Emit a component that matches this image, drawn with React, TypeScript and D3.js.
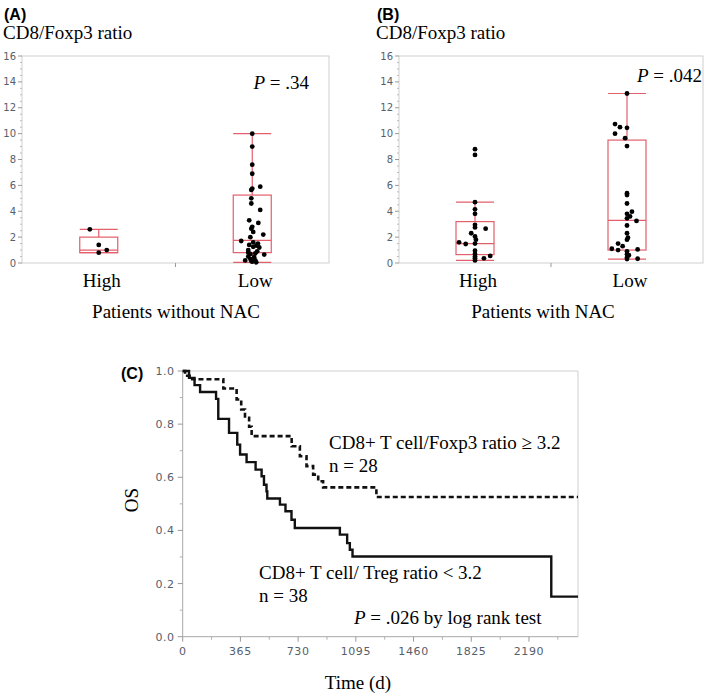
import React from "react";
import * as d3 from "d3";

// ---------- Data ----------
const categories = ["High", "Low"];
const yTicksBox = [0, 2, 4, 6, 8, 10, 12, 14, 16];

// Panel A (without NAC): box stats [lowWhisker, q1, median, q3, highWhisker]
const statsA_High = [0.8, 0.8, 1.0, 2.0, 2.6];
const statsA_Low = [0.05, 0.8, 1.75, 5.25, 10.0];
const ptsA_High = [2.6, 1.4, 1.0, 0.8];
const jitA_High = [-0.47, 0, 0.42, 0];
const ptsA_Low = [10.0, 9.0, 7.6, 6.9, 5.9, 5.75, 5.65, 5.0, 4.6, 4.1, 3.3, 3.1, 2.8, 2.65, 2.4, 2.2, 2.0, 1.7, 1.6, 1.5, 1.4, 1.35, 1.25, 1.2, 1.0, 0.9, 0.8, 0.75, 0.7, 0.65, 0.5, 0.45, 0.3, 0.2, 0.2, 0.15, 0.1, 0.05];
const jitA_Low = [0, 0, 0, 0, 0.42, 0, -0.05, -0.05, -0.05, 0.42, -0.16, 0.32, 0, -0.05, 0.05, 0.58, -0.1, -0.58, 0.05, 0.3, -0.16, 0.21, 0.05, 0.37, -0.21, 0.26, -0.21, 0.16, -0.1, 0.63, -0.21, 0.1, -0.1, -0.37, 0.16, -0.05, 0, 0.21];

// Panel B (with NAC)
const statsB_High = [0.2, 0.65, 1.5, 3.2, 4.7];
const statsB_Low = [0.3, 1.0, 3.3, 9.5, 13.1];
const ptsB_High = [8.8, 8.35, 4.7, 4.15, 3.8, 2.95, 2.75, 2.65, 2.3, 2.05, 1.8, 1.6, 1.47, 1.5, 0.95, 0.7, 0.5, 0.36, 0.36, 0.55, 0.2];
const jitB_High = [0, 0, 0, 0, 0, 0, 0, 0.56, -0.2, 0, 0.05, -0.84, -0.49, 0, 0, 0, 0, 0, 0.47, 0.8, 0];
const ptsB_Low = [13.1, 10.74, 10.5, 10.45, 10.0, 9.65, 9.04, 5.39, 5.25, 4.6, 3.97, 3.8, 3.6, 3.45, 3.25, 2.9, 2.3, 1.95, 1.8, 1.5, 1.3, 1.1, 1.0, 0.9, 1.05, 0.68, 0.6, 0.42, 0.33, 0.3];
const jitB_Low = [0, -0.63, -0.37, 0, -0.63, -0.1, 0, 0, 0, 0, 0.26, 0, 0.16, 0, 0.5, 0, 0, 0.05, 0, -0.47, -0.23, -0.8, -0.47, 0, 0.56, 0, 0.1, 0, 0.56, 0];

// Panel C: Kaplan-Meier steps [day, survival after step]
const kmLowDays = [0, 40, 75, 110, 211, 225, 293, 345, 363, 404, 461, 499, 514, 530, 535, 615, 650, 688, 709, 994, 1040, 1057, 1074, 2331, 2500];
const kmLowSurv = [1.0, 0.974, 0.947, 0.921, 0.895, 0.82, 0.767, 0.723, 0.686, 0.657, 0.629, 0.604, 0.572, 0.547, 0.52, 0.497, 0.472, 0.44, 0.409, 0.384, 0.352, 0.327, 0.302, 0.151, 0.151];
const kmHighDays = [0, 15, 60, 257, 341, 370, 394, 420, 436, 478, 689, 741, 783, 825, 857, 888, 1225, 2500];
const kmHighSurv = [1.0, 0.982, 0.969, 0.934, 0.893, 0.855, 0.824, 0.79, 0.755, 0.755, 0.717, 0.679, 0.642, 0.61, 0.585, 0.562, 0.526, 0.526];
const xTicksC = [0, 365, 730, 1095, 1460, 1825, 2190];
const yTicksC = [0, 0.2, 0.4, 0.6, 0.8, 1.0];

// ---------- Styles ----------
const SERIF = "'Liberation Serif', 'Times New Roman', serif";
const SANS = "'DejaVu Sans', Verdana, sans-serif";
const BOLD = "'Liberation Sans', Arial, sans-serif";
const BOX = "#e35f6c";
const FRAME = "#cfcfcf";
const TICKTXT = "#56606c";
const FS = 19;

type BoxPanelProps = {
  left: number; right: number; top: number; bottom: number;
  statsHigh: number[]; statsLow: number[];
  ptsHigh: number[]; jitHigh: number[]; ptsLow: number[]; jitLow: number[];
  label: string; title: string; pText: string; pX: number; pY: number;
  titleX: number; footer: string; footerX: number;
};

function BoxPanel(p: BoxPanelProps) {
  const y = d3.scaleLinear().domain([0, 16]).range([p.bottom, p.top]);
  const x = d3.scalePoint<string>().domain(categories).range([p.left, p.right]).padding(0.5);
  const hw = 19;
  const minor = d3.range(0.5, 16, 0.5).filter((v) => v % 2 !== 0);
  const groups = [
    { cat: "High", s: p.statsHigh, pts: p.ptsHigh, jit: p.jitHigh },
    { cat: "Low", s: p.statsLow, pts: p.ptsLow, jit: p.jitLow },
  ];
  return (
    <g>
      <text x={p.titleX} y={20} fontFamily={BOLD} fontWeight="bold" fontSize={16}>{p.label}</text>
      <text x={p.titleX - 1} y={39} fontFamily={SERIF} fontSize={FS}>{p.title}</text>
      <rect x={p.left} y={p.top} width={p.right - p.left} height={p.bottom - p.top} fill="none" stroke={FRAME} strokeWidth={1} />
      {yTicksBox.map((t) => (
        <g key={t}>
          <line x1={p.left - 4} x2={p.left} y1={y(t)} y2={y(t)} stroke="#9a9a9a" />
          <text x={p.left - 6} y={y(t) + 3.5} textAnchor="end" fontFamily={SANS} fontSize={10} fill={TICKTXT}>{t}</text>
        </g>
      ))}
      {minor.map((t) => (
        <line key={"m" + t} x1={p.left - 2} x2={p.left} y1={y(t)} y2={y(t)} stroke="#bcbcbc" />
      ))}
      <line x1={(p.left + p.right) / 2} x2={(p.left + p.right) / 2} y1={p.bottom} y2={p.bottom + 4} stroke="#9a9a9a" />
      {groups.map((g) => {
        const cx = x(g.cat) as number;
        const [wl, q1, md, q3, wh] = g.s;
        return (
          <g key={g.cat}>
            <line x1={cx} x2={cx} y1={y(q3)} y2={y(wh)} stroke={BOX} strokeWidth={1.2} />
            <line x1={cx} x2={cx} y1={y(q1)} y2={y(wl)} stroke={BOX} strokeWidth={1.2} />
            <line x1={cx - hw} x2={cx + hw} y1={y(wh)} y2={y(wh)} stroke={BOX} strokeWidth={1.2} />
            <line x1={cx - hw} x2={cx + hw} y1={y(wl)} y2={y(wl)} stroke={BOX} strokeWidth={1.2} />
            <rect x={cx - hw} y={y(q3)} width={2 * hw} height={y(q1) - y(q3)} fill="none" stroke={BOX} strokeWidth={1.2} />
            <line x1={cx - hw} x2={cx + hw} y1={y(md)} y2={y(md)} stroke={BOX} strokeWidth={1.2} />
            {g.pts.map((v, i) => (
              <circle key={i} cx={cx + g.jit[i] * hw} cy={y(v)} r={2.4} fill="#000" />
            ))}
            <text x={cx + 3} y={287} textAnchor="middle" fontFamily={SERIF} fontSize={FS}>{g.cat}</text>
          </g>
        );
      })}
      <text x={p.pX} y={p.pY} textAnchor="end" fontFamily={SERIF} fontSize={FS}>
        <tspan fontStyle="italic">P</tspan> = {p.pText}
      </text>
      <text x={p.footerX} y={318} textAnchor="middle" fontFamily={SERIF} fontSize={FS}>{p.footer}</text>
    </g>
  );
}

function KMPanel() {
  const x = d3.scaleLinear().domain([0, 2500]).range([182.7, 578]);
  const y = d3.scaleLinear().domain([0, 1]).range([636.7, 371]);
  const line = d3.line<[number, number]>().x((d) => x(d[0])).y((d) => y(d[1])).curve(d3.curveStepAfter);
  const lowPts = kmLowDays.map((d, i) => [d, kmLowSurv[i]] as [number, number]);
  const highPts = kmHighDays.map((d, i) => [d, kmHighSurv[i]] as [number, number]);
  const xMinor = d3.range(182.5, 2500, 365);
  const yMinor = d3.range(0.1, 1.0, 0.2);
  const [x0, x1] = x.range();
  const [y0, y1] = y.range();
  return (
    <g>
      <text x={121} y={379} fontFamily={BOLD} fontWeight="bold" fontSize={16}>(C)</text>
      <line x1={x0} x2={x1} y1={y1} y2={y1} stroke={FRAME} />
      <line x1={x1} x2={x1} y1={y1} y2={y0} stroke={FRAME} />
      <line x1={x0} x2={x0} y1={y1} y2={y0} stroke="#a8a8a8" />
      <line x1={x0} x2={x1} y1={y0} y2={y0} stroke="#a8a8a8" />
      {yTicksC.map((t) => (
        <g key={t}>
          <line x1={x0 - 5} x2={x0} y1={y(t)} y2={y(t)} stroke="#9a9a9a" />
          <text x={x0 - 8} y={y(t) + 4} textAnchor="end" fontFamily={SANS} fontSize={11} letterSpacing={0.6} fill={TICKTXT}>{t.toFixed(1)}</text>
        </g>
      ))}
      {yMinor.map((t) => (
        <line key={"ym" + t} x1={x0 - 3} x2={x0} y1={y(t)} y2={y(t)} stroke="#b0b0b0" />
      ))}
      {xTicksC.map((t) => (
        <g key={t}>
          <line x1={x(t)} x2={x(t)} y1={y0} y2={y0 + 5} stroke="#9a9a9a" />
          <text x={x(t)} y={y0 + 18} textAnchor="middle" fontFamily={SANS} fontSize={11} letterSpacing={0.6} fill={TICKTXT}>{t}</text>
        </g>
      ))}
      {xMinor.map((t) => (
        <line key={"xm" + t} x1={x(t)} x2={x(t)} y1={y0} y2={y0 + 3} stroke="#b0b0b0" />
      ))}
      <path d={line(highPts) as string} fill="none" stroke="#111" strokeWidth={2.6} strokeDasharray="5 3" />
      <path d={line(lowPts) as string} fill="none" stroke="#111" strokeWidth={2.4} />
      <text x={138} y={500} transform="rotate(-90 138 500)" textAnchor="middle" fontFamily={SERIF} fontSize={FS}>OS</text>
      <text x={358} y={689} textAnchor="middle" fontFamily={SERIF} fontSize={FS}>Time (d)</text>
      <text x={329} y={449} fontFamily={SERIF} fontSize={FS}>CD8+ T cell/Foxp3 ratio ≥ 3.2</text>
      <text x={329} y={472} fontFamily={SERIF} fontSize={FS}>n = 28</text>
      <text x={259} y={579} fontFamily={SERIF} fontSize={FS}>CD8+ T cell/ Treg ratio &lt; 3.2</text>
      <text x={259} y={602} fontFamily={SERIF} fontSize={FS}>n = 38</text>
      <text x={354} y={624} fontFamily={SERIF} fontSize={FS}>
        <tspan fontStyle="italic">P</tspan> = .026 by log rank test
      </text>
    </g>
  );
}

export default function App() {
  return (
    <svg width={709} height={694} style={{ position: "absolute", left: 0, top: 0, background: "#fff" }}>
      <rect x={0} y={0} width={709} height={694} fill="#fff" />
      <BoxPanel left={22} right={329} top={56} bottom={263}
        statsHigh={statsA_High} statsLow={statsA_Low}
        ptsHigh={ptsA_High} jitHigh={jitA_High} ptsLow={ptsA_Low} jitLow={jitA_Low}
        label="(A)" title="CD8/Foxp3 ratio" pText=".34" pX={309} pY={89}
        titleX={4} footer="Patients without NAC" footerX={176} />
      <BoxPanel left={399} right={703} top={56} bottom={263}
        statsHigh={statsB_High} statsLow={statsB_Low}
        ptsHigh={ptsB_High} jitHigh={jitB_High} ptsLow={ptsB_Low} jitLow={jitB_Low}
        label="(B)" title="CD8/Foxp3 ratio" pText=".042" pX={702} pY={82}
        titleX={377} footer="Patients with NAC" footerX={543} />
      <KMPanel />
    </svg>
  );
}
